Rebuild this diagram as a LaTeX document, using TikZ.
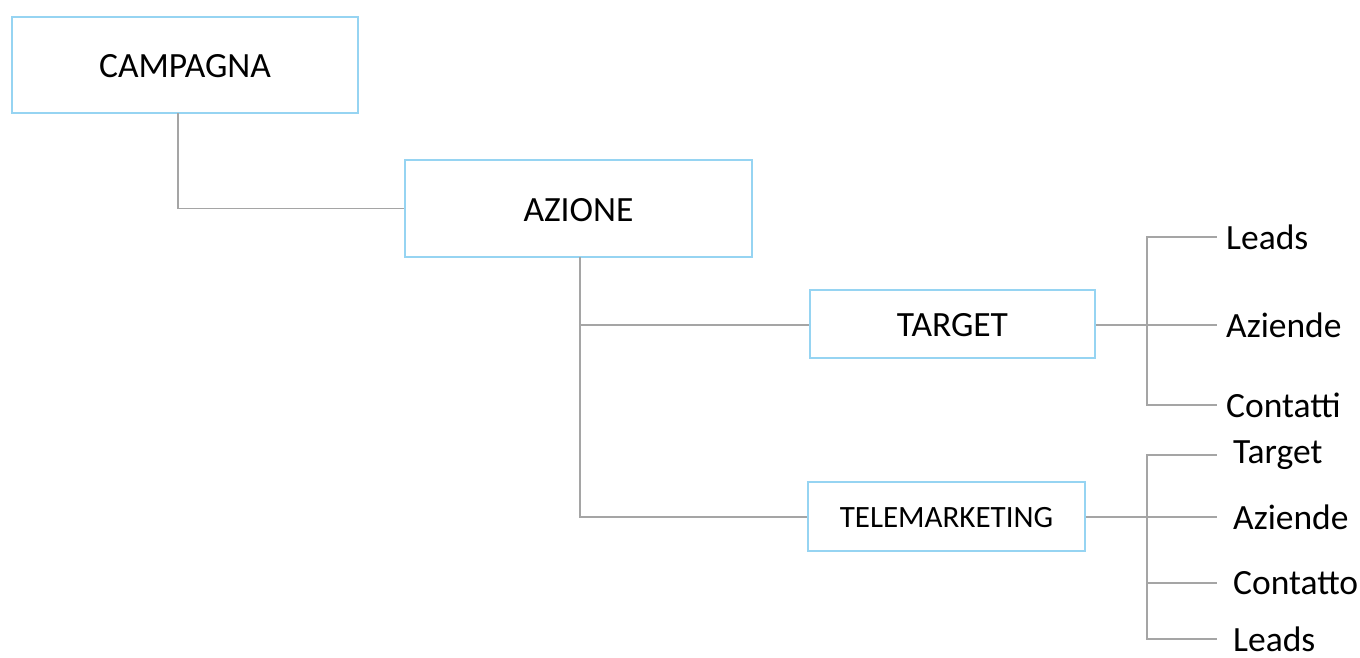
\documentclass[tikz,border=0pt]{standalone}
\usepackage{fontspec}
\setmainfont{Carlito}
\definecolor{boxblue}{RGB}{150,212,242}
\definecolor{linegray}{RGB}{165,165,165}
\begin{document}
\begin{tikzpicture}[x=1pt,y=-1pt,
  box/.style={draw=boxblue,line width=1.8pt,fill=white,inner sep=0pt,text depth=0pt,
    font=\fontsize{35.5}{40}\selectfont},
  leafA/.style={anchor=west,inner ysep=0pt,inner xsep=9pt,font=\fontsize{35.5}{40}\selectfont},
  leafB/.style={anchor=west,inner ysep=0pt,inner xsep=16pt,font=\fontsize{35.5}{40}\selectfont},
  conn/.style={draw=linegray,line width=1.8pt}]
\useasboundingbox (0,0) rectangle (1360,657);
\fill[white] (0,0) rectangle (1360,657);
% main boxes
\node[box,minimum width=346pt,minimum height=96pt] (camp) at (185,65) {\raisebox{-2pt}{CAMPAGNA}};
\node[box,minimum width=347pt,minimum height=97pt] (az) at (578.5,208.5) {\raisebox{-2pt}{AZIONE}};
\node[box,minimum width=285pt,minimum height=68pt] (tg) at (952.5,324) {\raisebox{-2pt}{TARGET}};
\node[box,minimum width=277pt,minimum height=69pt,font=\fontsize{31}{36}\selectfont] (tm) at (946.5,516.5) {\raisebox{-1.5pt}{TELEMARKETING}};
% junction coordinates
\coordinate (cj) at (178,113);
\coordinate (aj) at (580,257);
\coordinate (tj) at (1147,325);
\coordinate (mj) at (1147,517);
% leaves of TARGET
\node[leafA] (l1) at (1217,237) {Leads};
\node[leafA] (l2) at (1217,325) {Aziende};
\node[leafA] (l3) at (1217,405) {Contatti};
% leaves of TELEMARKETING
\node[leafB] (m1) at (1217,455) {Target};
\node[leafB] (m2) at (1217,517) {Aziende};
\node[leafB] (m3) at (1217,583) {Contatto};
\node[leafB] (m4) at (1217,639) {Leads};
% connectors
\draw[conn] (cj) |- (az.west);
\draw[conn] (aj) |- (tg.west |- tj);
\draw[conn] (aj) |- (tm.west |- mj);
\draw[conn] (tg.east |- tj) -- (l2.west);
\draw[conn] (tj) |- (l1.west);
\draw[conn] (tj) |- (l3.west);
\draw[conn] (tm.east |- mj) -- (m2.west);
\draw[conn] (mj) |- (m1.west);
\draw[conn] (mj) |- (m3.west);
\draw[conn] (mj) |- (m4.west);
\end{tikzpicture}
\end{document}
